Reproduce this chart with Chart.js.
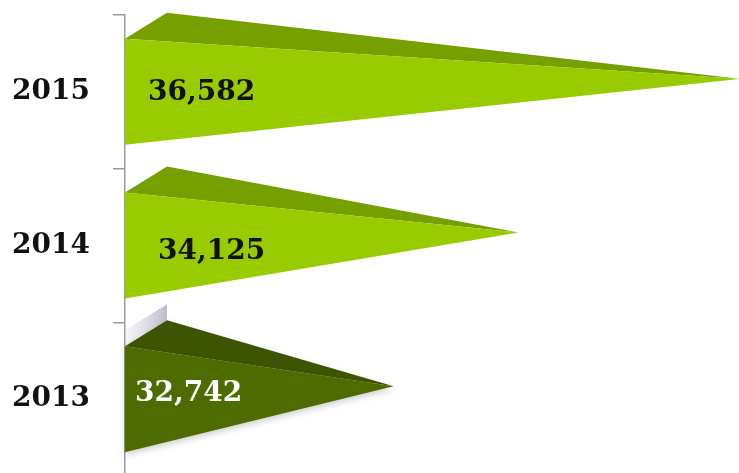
<!DOCTYPE html>
<html>
<head>
<meta charset="utf-8">
<script src="https://cdn.jsdelivr.net/npm/chart.js@4.4.1/dist/chart.umd.min.js"></script>
<style>
  html, body { margin: 0; padding: 0; background: #fff; overflow: hidden; }
  #wrap { width: 739px; height: 473px; overflow: hidden; }
</style>
</head>
<body>
<div id="wrap"><canvas id="pyramidChart" width="739" height="476"></canvas></div>
<script>
// data
const years = ['2015', '2014', '2013']
const visitors = [36582, 34125, 32742]

const frontColors = ['#99cc00', '#99cc00', '#4e6b02']
const topColors = ['#76a000', '#76a000', '#3d5400']
const labelColors = ['#111111', '#111111', '#ffffff']
// small nudges for the value labels [dx, dy]
const labelShift = [[23, 1], [33, 6], [10, -5]]

const DEPTH_X = 42
const DEPTH_Y = -26

// draw each bar as a 3D pyramid lying on its side
const pyramids = {
  id: 'pyramids',
  afterDatasetsDraw(chart) {
    const ctx = chart.ctx
    const meta = chart.getDatasetMeta(0)
    meta.data.forEach((bar, i) => {
      const { x, y, base, height } = bar.getProps(['x', 'y', 'base', 'height'], true)
      const top = y - height / 2
      const bottom = y + height / 2
      const tipX = x + DEPTH_X / 2
      const tipY = y + DEPTH_Y / 2

      ctx.save()
      if (i === 2) {
        // greyish wall behind the dark pyramid
        const g = ctx.createLinearGradient(base, 0, base + DEPTH_X, 0)
        g.addColorStop(0, 'rgba(215,215,228,0.25)')
        g.addColorStop(1, 'rgba(175,175,195,0.85)')
        ctx.beginPath()
        ctx.moveTo(base, top - 16)
        ctx.lineTo(base + DEPTH_X, top + DEPTH_Y - 16)
        ctx.lineTo(base + DEPTH_X, top + DEPTH_Y)
        ctx.lineTo(base, top)
        ctx.closePath()
        ctx.fillStyle = g
        ctx.fill()
        ctx.shadowColor = 'rgba(0,0,0,0.18)'
        ctx.shadowBlur = 6
        ctx.shadowOffsetY = 3
      }
      // top face
      ctx.beginPath()
      ctx.moveTo(base, top)
      ctx.lineTo(base + DEPTH_X, top + DEPTH_Y)
      ctx.lineTo(tipX, tipY)
      ctx.closePath()
      ctx.fillStyle = topColors[i]
      ctx.fill()
      // front face
      ctx.beginPath()
      ctx.moveTo(base, top)
      ctx.lineTo(tipX, tipY)
      ctx.lineTo(base, bottom)
      ctx.closePath()
      ctx.fillStyle = frontColors[i]
      ctx.fill()
      ctx.restore()

      // value label
      ctx.save()
      ctx.font = 'bold 28px "DejaVu Serif", serif'
      ctx.fillStyle = labelColors[i]
      ctx.textAlign = 'left'
      ctx.textBaseline = 'middle'
      ctx.fillText(visitors[i].toLocaleString('en-US'), base + labelShift[i][0], y + labelShift[i][1])
      ctx.restore()
    })
  }
}

new Chart(document.querySelector('#pyramidChart'), {
  type: 'bar',
  data: {
    labels: years,
    datasets: [{
      data: visitors,
      base: 30000,
      backgroundColor: 'rgba(0,0,0,0)',
      categoryPercentage: 1,
      barPercentage: 0.69
    }]
  },
  options: {
    indexAxis: 'y',
    responsive: false,
    animation: false,
    layout: { autoPadding: false, padding: { top: 15, right: 0, bottom: 0, left: 0 } },
    scales: {
      x: {
        display: false,
        min: 30000,
        max: 36800
      },
      y: {
        afterFit(scale) {
          scale.width = 125
          scale.paddingTop = 0
          scale.paddingBottom = 0
        },
        grid: {
          drawOnChartArea: false,
          tickLength: 12,
          color: '#9a9a9a',
          lineWidth: 1.5
        },
        border: { color: '#9a9a9a', width: 1.5 },
        ticks: {
          padding: 23,
          color: '#111111',
          font: { size: 28, weight: 'bold', family: '"DejaVu Serif", serif' }
        }
      }
    },
    plugins: {
      legend: { display: false },
      tooltip: { enabled: false }
    }
  },
  plugins: [pyramids]
})
</script>
</body>
</html>
